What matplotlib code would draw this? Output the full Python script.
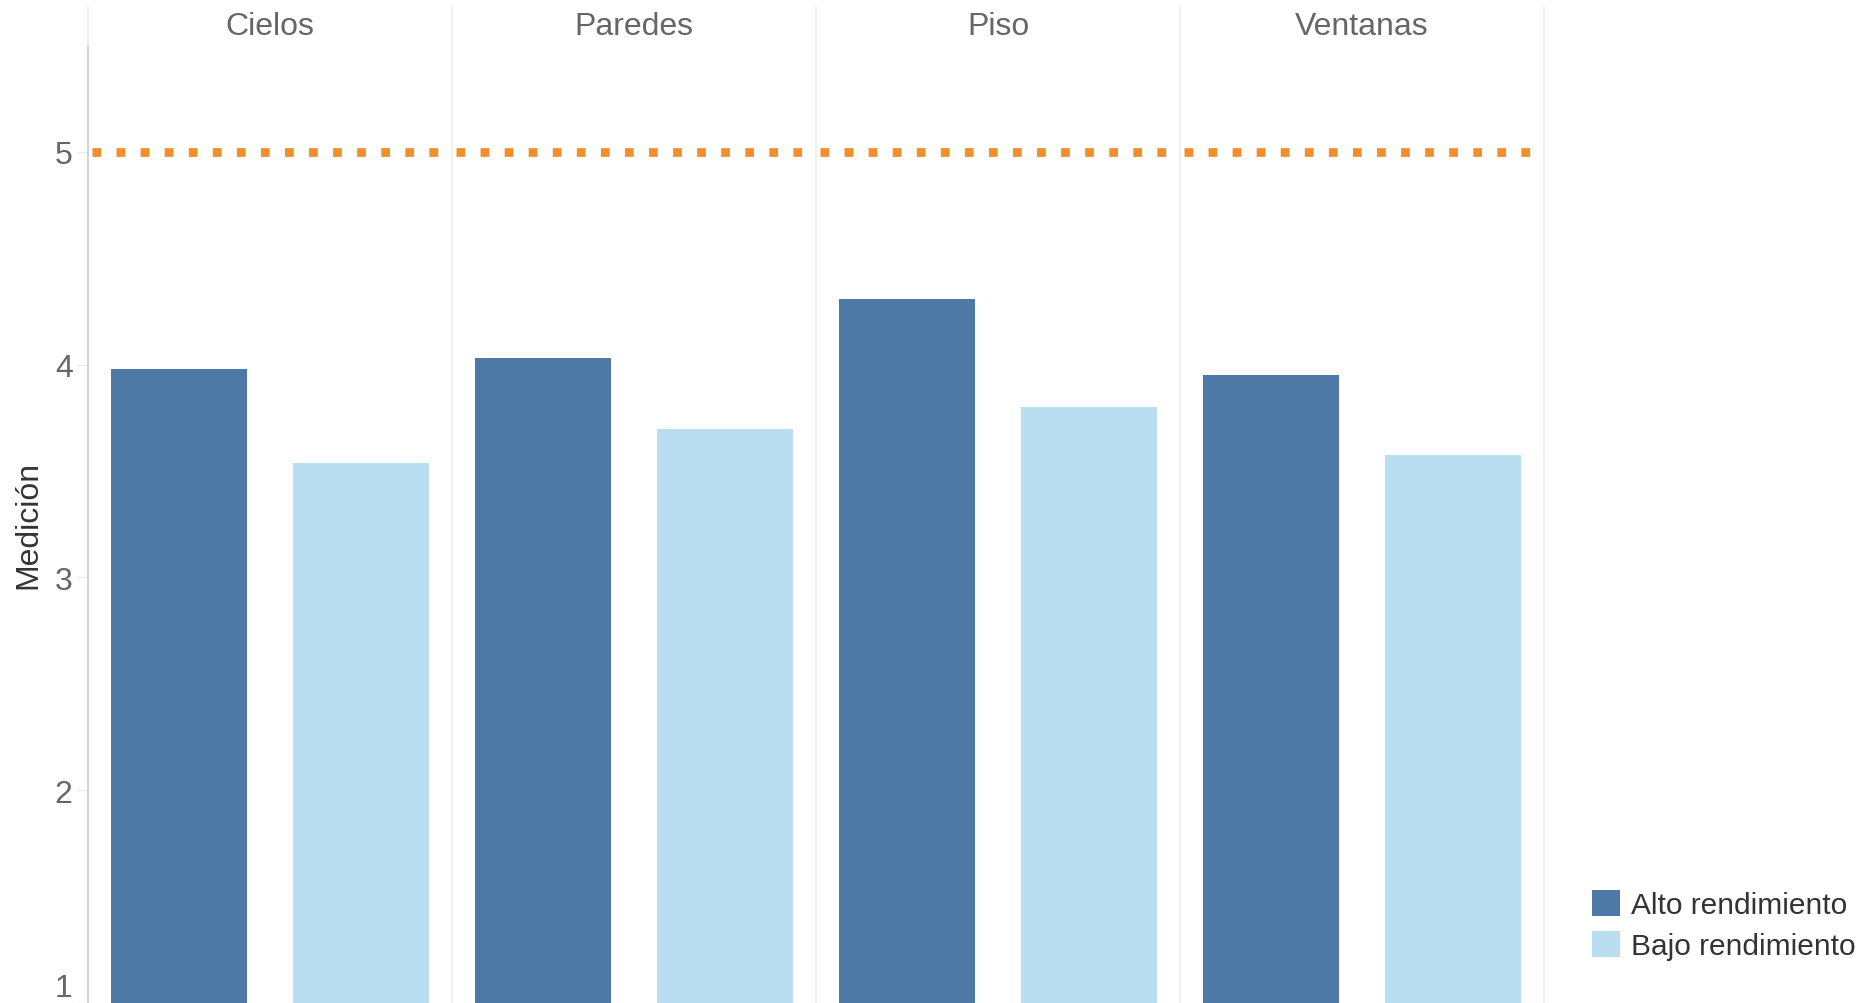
import matplotlib
matplotlib.use("Agg")
import matplotlib.pyplot as plt
from matplotlib.patches import Patch
import numpy as np

plt.rcParams['font.family'] = ['Liberation Sans', 'DejaVu Sans']

categories = ["Cielos", "Paredes", "Piso", "Ventanas"]
series_names = ["Alto rendimiento", "Bajo rendimiento"]
alto = [3.98, 4.03, 4.31, 3.95]
bajo = [3.54, 3.70, 3.80, 3.575]
reference_value = 5.0
y_ticks = [1, 2, 3, 4, 5]

c_alto = "#4e79a7"
c_bajo = "#b9ddf1"
c_ref = "#f28e2b"
c_text = "#666666"

W, H = 1872, 1004
fig = plt.figure(figsize=(W / 100, H / 100), dpi=100)
ax_left, ax_right = 88 / W, 1544 / W
ax_top_px, ax_bot_px = 46.5, 1004
ax = fig.add_axes([ax_left, 1 - ax_bot_px / H, ax_right - ax_left, (ax_bot_px - ax_top_px) / H])

n = len(categories)
centers = np.arange(n) * 2
bw = 0.746
ax.bar(centers + 0.5, alto, width=bw, bottom=0, color=c_alto, zorder=3)
ax.bar(centers + 1.5, bajo, width=bw, bottom=0, color=c_bajo, zorder=3)

# reference line, restarted in each pane
for i in range(n):
    ax.plot([2 * i + 0.02, 2 * i + 2], [reference_value, reference_value], color=c_ref,
            lw=6.3, dashes=(1, 1.75), solid_capstyle='butt', dash_capstyle='butt', zorder=4)

ax.set_xlim(0, 2 * n)
ax.set_ylim(1, 5.5)

# pane dividers, extending into header
extra = (ax_top_px - 7) / (ax_bot_px - ax_top_px)
for i in range(1, n + 1):
    ax.axvline(2 * i, ymin=0, ymax=1 + extra, color="#efefef", lw=1.2, clip_on=False, zorder=1)
ax.axvline(0, ymin=1, ymax=1 + extra, color="#efefef", lw=1.2, clip_on=False, zorder=1)

for s in ["top", "right", "bottom"]:
    ax.spines[s].set_visible(False)
ax.spines["left"].set_color("#d4d4d4")
ax.spines["left"].set_linewidth(1.5)

ax.set_xticks([])
ax.set_yticks(y_ticks)
ax.set_yticklabels([str(t) for t in y_ticks])
ax.tick_params(axis='y', length=8, width=1, color="#ececec", pad=3, labelsize=23, labelcolor=c_text)
ax.yaxis.get_major_ticks()[0].label1.set_verticalalignment('bottom')

ax.set_ylabel("Medición", fontsize=23, color="#333333")
ax.yaxis.set_label_coords((43 - 88) / (1544 - 88), 0.5)

for i, cat in enumerate(categories):
    fx = (88 + (2 * i + 1) / (2 * n) * (1544 - 88)) / W
    fig.text(fx, 1 - 27 / H, cat, ha='center', va='center', fontsize=23, color=c_text)

handles = [Patch(facecolor=c_alto, edgecolor='none'), Patch(facecolor=c_bajo, edgecolor='none')]
leg = fig.legend(handles, series_names, loc='center left', bbox_to_anchor=(1592 / W, 1 - 926 / H),
                 frameon=False, fontsize=21.5, handlelength=0.95, handleheight=0.95,
                 handletextpad=0.35, labelspacing=0.4, borderpad=0, borderaxespad=0)
for t in leg.get_texts():
    t.set_color("#333333")

fig.savefig("out.png", dpi=100)
